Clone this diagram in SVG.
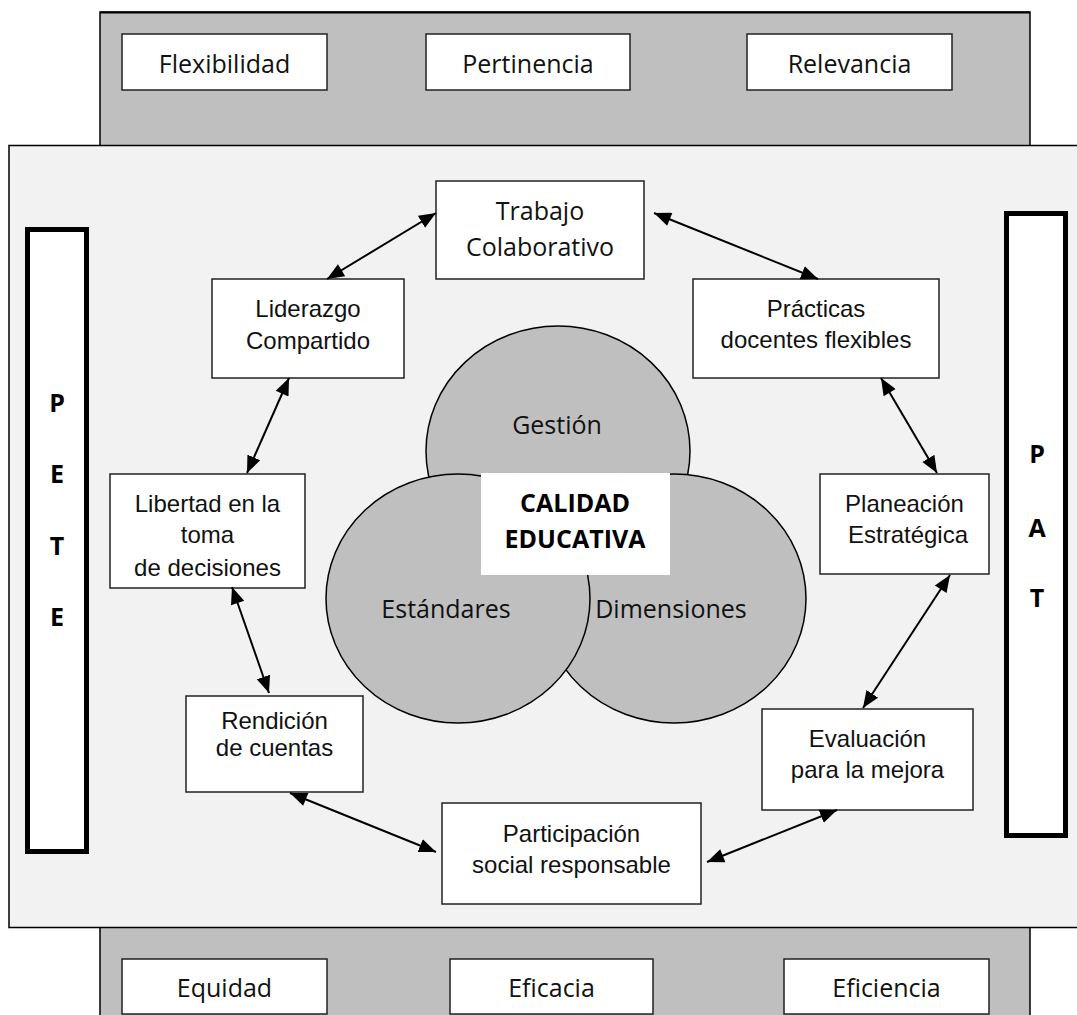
<svg xmlns="http://www.w3.org/2000/svg" width="1077" height="1015" viewBox="0 0 1077 1015">
<style>
.band{fill:#bfbfbf;stroke:#000;stroke-width:1.5}
.panel{fill:#f2f2f2;stroke:#000;stroke-width:1.5}
.box{fill:#fff;stroke:#222;stroke-width:1.5}
.bar{fill:#fff;stroke:#000;stroke-width:5}
.circ{fill:#bfbfbf;stroke:#000;stroke-width:1.5}
.os{font-family:"Open Sans","DejaVu Sans",sans-serif;font-size:25px;fill:#111;text-anchor:middle}
.osb{font-family:"Open Sans","DejaVu Sans",sans-serif;font-size:25px;font-weight:bold;fill:#000;text-anchor:middle}
.ar{font-family:"Liberation Sans",Arial,sans-serif;font-size:24px;fill:#111;text-anchor:middle}
.conn line{stroke:#000;stroke-width:2;marker-start:url(#aS);marker-end:url(#aE)}
</style>
<defs>
<marker id="aE" markerUnits="userSpaceOnUse" markerWidth="20" markerHeight="16" refX="17" refY="7" orient="auto"><path d="M0,0 L17,7 L0,14 z" fill="#000"/></marker>
<marker id="aS" markerUnits="userSpaceOnUse" markerWidth="20" markerHeight="16" refX="0" refY="7" orient="auto"><path d="M17,0 L0,7 L17,14 z" fill="#000"/></marker>
</defs>
<rect width="1077" height="1015" fill="#fff"/>
<rect class="band" x="100" y="12" width="930" height="140"/>
<line x1="100" y1="12.5" x2="1030" y2="12.5" stroke="#000" stroke-width="2"/>
<rect class="band" x="100" y="920" width="930" height="110"/>
<rect class="panel" x="9" y="145.5" width="1080" height="782"/>

<g id="flexibilidad"><rect class="box" x="122" y="34" width="205" height="56"/><text class="os" x="224.5" y="73">Flexibilidad</text></g>
<g id="pertinencia"><rect class="box" x="426" y="34" width="204" height="56"/><text class="os" x="528" y="73">Pertinencia</text></g>
<g id="relevancia"><rect class="box" x="747" y="34" width="205" height="56"/><text class="os" x="849.5" y="73">Relevancia</text></g>

<g id="equidad"><rect class="box" x="122" y="959" width="205" height="55"/><text class="os" x="224.5" y="997">Equidad</text></g>
<g id="eficacia"><rect class="box" x="450" y="959" width="203" height="55"/><text class="os" x="551.5" y="997">Eficacia</text></g>
<g id="eficiencia"><rect class="box" x="784" y="959" width="205" height="55"/><text class="os" x="886.5" y="997">Eficiencia</text></g>

<g id="pete"><rect class="bar" x="27.5" y="229.5" width="59" height="622"/>
<text class="osb" x="57" y="412">P</text><text class="osb" x="57" y="483">E</text><text class="osb" x="57" y="555">T</text><text class="osb" x="57" y="626">E</text></g>
<g id="pat"><rect class="bar" x="1006.5" y="213.5" width="59" height="622"/>
<text class="osb" x="1037" y="463">P</text><text class="osb" x="1037" y="537">A</text><text class="osb" x="1037" y="607">T</text></g>

<g id="gestion"><ellipse class="circ" cx="558" cy="451" rx="132" ry="125"/><text class="os" x="557" y="434">Gestión</text></g>
<g id="dimensiones"><ellipse class="circ" cx="674" cy="598.5" rx="132" ry="124.5"/><text class="os" x="671" y="618">Dimensiones</text></g>
<g id="estandares"><ellipse class="circ" cx="458" cy="598.5" rx="132" ry="124.5"/><text class="os" x="446" y="618">Estándares</text></g>
<g id="calidad"><rect x="481" y="473" width="189" height="102" fill="#fff"/><text class="osb" x="575" y="512">CALIDAD</text><text class="osb" x="575" y="548">EDUCATIVA</text></g>

<g id="trabajo"><rect class="box" x="436" y="181" width="208" height="98"/><text class="os" x="540" y="220">Trabajo</text><text class="os" x="540" y="256">Colaborativo</text></g>
<g id="liderazgo"><rect class="box" x="212" y="279" width="192" height="99"/><text class="ar" x="308" y="317">Liderazgo</text><text class="ar" x="308" y="349">Compartido</text></g>
<g id="practicas"><rect class="box" x="693" y="279" width="246" height="99"/><text class="ar" x="816" y="317">Prácticas</text><text class="ar" x="816" y="348">docentes flexibles</text></g>
<g id="libertad"><rect class="box" x="110" y="474" width="195" height="114"/><text class="ar" x="207.5" y="512">Libertad en la</text><text class="ar" x="207.5" y="543">toma</text><text class="ar" x="207.5" y="576">de decisiones</text></g>
<g id="planeacion"><rect class="box" x="820" y="474" width="169" height="100"/><text class="ar" x="904.5" y="512">Planeación</text><text class="ar" x="908" y="543">Estratégica</text></g>
<g id="rendicion"><rect class="box" x="186" y="696" width="177" height="96"/><text class="ar" x="274.5" y="729">Rendición</text><text class="ar" x="274.5" y="756">de cuentas</text></g>
<g id="evaluacion"><rect class="box" x="762" y="709" width="211" height="101"/><text class="ar" x="867.5" y="747">Evaluación</text><text class="ar" x="867.5" y="778">para la mejora</text></g>
<g id="participacion"><rect class="box" x="442" y="803" width="259" height="101"/><text class="ar" x="571.5" y="842">Participación</text><text class="ar" x="571.5" y="873">social responsable</text></g>

<g id="connectors" class="conn">
<line x1="327" y1="279" x2="436" y2="213"/>
<line x1="654" y1="213" x2="818" y2="279"/>
<line x1="289" y1="378" x2="247" y2="473"/>
<line x1="881" y1="378" x2="937" y2="473"/>
<line x1="232" y1="587" x2="269" y2="693"/>
<line x1="950" y1="575" x2="863" y2="708"/>
<line x1="290" y1="793" x2="436" y2="852"/>
<line x1="707" y1="862" x2="837" y2="810"/>
</g>
</svg>
